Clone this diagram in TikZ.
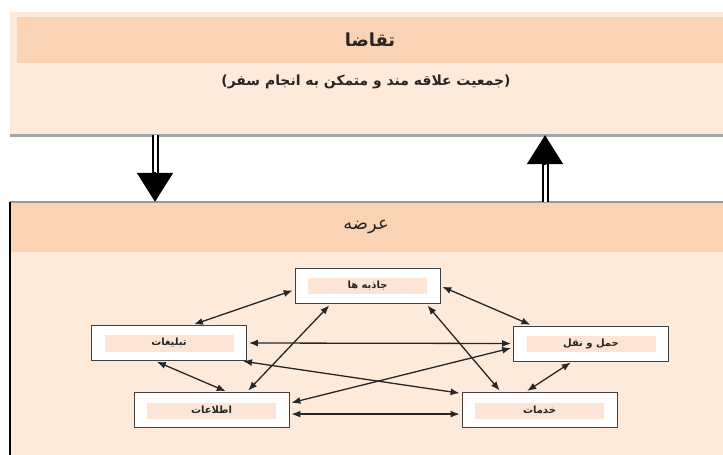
\documentclass[tikz,border=0pt]{standalone}
\usepackage{fontspec}
\usetikzlibrary{arrows.meta,calc}
\TeXXeTstate=1
\newfontfamily\farsi[Script=Arabic]{DejaVu Sans}
\newcommand{\fatext}[1]{{\farsi\beginR #1\endR}}
\definecolor{peachdark}{RGB}{250,211,181}
\definecolor{peachlight}{RGB}{253,234,219}
\definecolor{peachinner}{RGB}{252,229,212}

\begin{document}
\begin{tikzpicture}[
  x=1bp, y=-1bp,
  panel/.style={rectangle, fill=peachlight, inner sep=0pt},
  band/.style={rectangle, fill=peachdark, inner sep=0pt, text=black!85,
    font=\farsi\fontsize{18}{20}\selectfont\bfseries},
  unit/.style={rectangle, draw=black!75, fill=white, line width=0.9bp, inner sep=0pt, text=black!85,
    minimum width=155bp, minimum height=35bp, font=\farsi\fontsize{10}{12}\selectfont\bfseries,
    path picture={\fill[peachinner]
      ([xshift=13bp,yshift=-10bp]path picture bounding box.north west) rectangle
      ([xshift=-13bp,yshift=9bp]path picture bounding box.south east);}},
  link/.style={line width=1.3bp, black!85, {Latex[length=9bp,width=7bp]}-{Latex[length=9bp,width=7bp]},
    shorten <=2bp, shorten >=2bp},
  bigshaft/.style={draw=black, double=white, line width=2bp, double distance=3bp},
  bighead/.style={line width=2bp, -{Triangle[length=29bp,width=36bp]}}
]
  \useasboundingbox (0,0) rectangle (723,455);
  \clip (0,0) rectangle (723,455);

  %% ── Demand panel ──────────────────────────────────────────────────────────
  \node[panel, minimum width=720bp, minimum height=123bp] (taqaza) at (370,73.5) {};
  \draw[gray!70, line width=3bp] (taqaza.south west) -- (taqaza.south east);
  \node[band, minimum width=706bp, minimum height=46bp] (taqazahdr) at (370,40) {\fatext{تقاضا}};
  \node[font=\farsi\fontsize{14}{16}\selectfont\bfseries, text=black!85] (taqazasub) at (366,82)
    {\fatext{(جمعیت علاقه مند و متمکن به انجام سفر)}};

  %% ── Supply panel ──────────────────────────────────────────────────────────
  \node[panel, minimum width=720bp, minimum height=258bp] (arze) at (370,331) {};
  \node[band, minimum width=713bp, minimum height=49bp, font=\farsi\fontsize{18}{20}\selectfont]
    (arzehdr) at (366,227.5) {\fatext{عرضه}};
  \draw[gray!80, line width=1.5bp] (arze.north west) -- (arze.north east);
  \draw[black, line width=1.5bp] (arze.north west) -- (arze.south west);

  % big arrows between the panels
  \coordinate (dn) at (155,0);
  \coordinate (up) at (545,0);
  \draw[bigshaft, shorten >=28bp] (taqaza.south -| dn) -- (arze.north -| dn);
  \draw[bighead] ($(arze.north -| dn)+(0,-30)$) -- (arze.north -| dn);
  \draw[bigshaft, shorten >=28bp] (arze.north -| up) -- (taqaza.south -| up);
  \draw[bighead] ($(taqaza.south -| up)+(0,30)$) -- (taqaza.south -| up);

  %% ── Supply units ──────────────────────────────────────────────────────────
  \node[unit, minimum width=145bp] (jazebe) at (367.5,286) {\fatext{جاذبه ها}};
  \node[unit] (tabligh) at (169,343) {\fatext{تبلیغات}};
  \node[unit] (haml) at (591,343.5) {\fatext{حمل و نقل}};
  \node[unit] (ettela) at (211.5,410) {\fatext{اطلاعات}};
  \node[unit] (khadamat) at (539.5,410) {\fatext{خدمات}};

  %% ── Links ─────────────────────────────────────────────────────────────────
  \draw[link] (jazebe.183) -- (tabligh.38);
  \draw[link] (jazebe.east) -- (haml.163);
  \draw[link] (tabligh.232) -- (ettela.48);
  \draw[link] (haml.224) -- (khadamat.128);
  \draw[link] (jazebe.206) -- (ettela.27);
  \draw[link] (jazebe.343) -- (khadamat.155);
  \draw[link] (tabligh.east) -- (haml.west);
  \draw[link] (ettela.357) -- (khadamat.183);
  \draw[link] (tabligh.346) -- (khadamat.168);
  \draw[link] (ettela.5) -- (haml.183);
\end{tikzpicture}
\end{document}
